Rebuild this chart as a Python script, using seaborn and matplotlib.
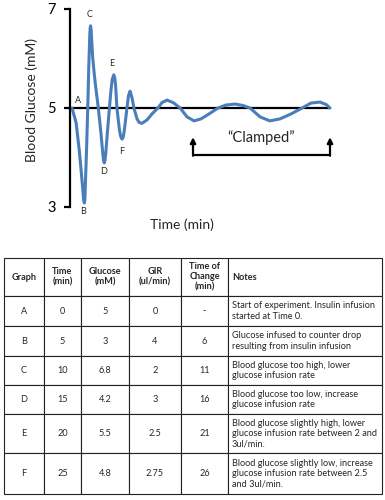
import numpy as np
import pandas as pd
import seaborn as sns
import matplotlib
matplotlib.use("Agg")
import matplotlib.pyplot as plt

# curve (time in arbitrary minutes, glucose in mM)
curve_time = [0, 1.6, 2.8, 3.6, 4.2, 4.5, 4.8, 5.0, 5.2, 5.6, 6.1, 6.5, 6.9,
              7.05, 7.2, 7.4, 7.6, 8.0, 8.5, 9.0, 9.6, 10.2, 11.2, 11.9, 12.2,
              12.5, 12.8, 13.1, 13.7, 14.5, 15.1, 15.6, 16.2, 16.6, 16.9, 17.4,
              18.4, 18.9, 19.4, 19.9, 20.4, 21.3, 21.9, 22.5, 23.2, 24.0, 25.2,
              26.0, 27.1, 29.1, 31.0, 33.3, 34.9, 36.8, 39.2, 41.9, 44.6, 47.3,
              50.0, 53.1, 56.6, 59.7, 63.2, 66.3, 69.0, 72.9, 76.7, 80.6, 84.9,
              89.2, 92.6, 96.1, 98.5, 100]
curve_glucose = [5.0, 4.70, 4.15, 3.70, 3.34, 3.14, 3.08, 3.16, 3.50, 4.10, 5.0,
                 5.83, 6.50, 6.62, 6.66, 6.58, 6.40, 6.03, 5.75, 5.50, 5.25, 5.0,
                 4.50, 4.10, 3.95, 3.89, 3.95, 4.10, 4.50, 5.0, 5.36, 5.58, 5.67,
                 5.60, 5.45, 5.0, 4.55, 4.42, 4.37, 4.42, 4.60, 5.0, 5.25, 5.34,
                 5.22, 5.0, 4.78, 4.71, 4.69, 4.76, 4.88, 5.0, 5.11, 5.16, 5.11,
                 5.0, 4.82, 4.74, 4.78, 4.88, 5.0, 5.06, 5.08, 5.05, 5.0, 4.82,
                 4.74, 4.78, 4.88, 5.0, 5.10, 5.12, 5.07, 5.0]

point_labels = ["A", "B", "C", "D", "E", "F"]
label_t = [2.3, 4.3, 6.8, 12.4, 15.5, 19.4]
label_v = [5.16, 2.90, 6.88, 3.71, 5.89, 4.13]

clamp_start, clamp_end = 46.9, 100
clamp_low, clamp_high = 4.05, 4.41

# table
col_labels = ["Graph", "Time\n(min)", "Glucose\n(mM)", "GIR\n(ul/min)", "Time of\nChange\n(min)", "Notes"]
graph = ["A", "B", "C", "D", "E", "F"]
times = ["0", "5", "10", "15", "20", "25"]
glucose = ["5", "3", "6.8", "4.2", "5.5", "4.8"]
gir = ["0", "4", "2", "3", "2.5", "2.75"]
change = ["-", "6", "11", "16", "21", "26"]
notes = ["Start of experiment. Insulin infusion\nstarted at Time 0.",
         "Glucose infused to counter drop\nresulting from insulin infusion",
         "Blood glucose too high, lower\nglucose infusion rate",
         "Blood glucose too low, increase\nglucose infusion rate",
         "Blood glucose slightly high, lower\nglucose infusion rate between 2 and\n3ul/min.",
         "Blood glucose slightly low, increase\nglucose infusion rate between 2.5\nand 3ul/min."]

sns.set_style("white")
plt.rcParams['font.family'] = ['Lato', 'DejaVu Sans']

fig = plt.figure(figsize=(3.85, 5), dpi=100)
W, H = 385, 500

ax = fig.add_axes([70 / W, 1 - 207 / H, 260 / W, 198 / H])
df = pd.DataFrame({"t": curve_time, "g": curve_glucose})
ax.plot([0, 100], [5, 5], color="black", lw=1.6, zorder=1, clip_on=False)
sns.lineplot(data=df, x="t", y="g", ax=ax, color="#4a7ebb", lw=2.2, zorder=2,
             sort=False, clip_on=False, solid_joinstyle="round", solid_capstyle="round")
ax.set_xlim(-0.78, 100)
ax.set_ylim(3, 7)
ax.set_yticks([3, 5, 7])
ax.set_xticks([])
for s in ["top", "right", "bottom"]:
    ax.spines[s].set_visible(False)
ax.spines["left"].set_linewidth(1.6)
ax.spines["left"].set_color("black")
ax.tick_params(axis="y", direction="out", length=4, width=1.6, pad=6,
               labelsize=10.5, left=True, colors="black")
ax.set_ylabel("Blood Glucose (mM)", fontsize=10, va="center")
ax.yaxis.set_label_coords(-0.146, 0.54)
ax.set_xlabel("Time (min)", fontsize=10, va="center")
ax.xaxis.set_label_coords(0.431, -0.091)

for lab, t, v in zip(point_labels, label_t, label_v):
    ax.text(t, v, lab, fontsize=6.5, ha="center", va="center", clip_on=False)

ax.text((clamp_start + clamp_end) / 2, clamp_high, "\u201cClamped\u201d",
        fontsize=10.5, ha="center", va="center")
ax.plot([clamp_start, clamp_end], [clamp_low, clamp_low], color="black", lw=1.6,
        solid_capstyle="butt", clip_on=False)
for xx in [clamp_start, clamp_end]:
    ax.annotate("", xy=(xx, clamp_high), xytext=(xx, clamp_low - 0.015),
                arrowprops=dict(arrowstyle="-|>", lw=1.6, color="black",
                                mutation_scale=8, shrinkA=0, shrinkB=0),
                annotation_clip=False)

# table
tax = fig.add_axes([4 / W, 1 - 494 / H, 378 / W, 236 / H])
tax.axis("off")
cells = [list(r) for r in zip(graph, times, glucose, gir, change, notes)]
col_w = [40, 37, 48, 52, 47, 154]
row_h = [38, 30, 30, 29, 29, 39, 41]
tbl = tax.table(cellText=cells, colLabels=col_labels, colWidths=[w / 378 for w in col_w],
                cellLoc="center", bbox=[0, 0, 1, 1])
tbl.auto_set_font_size(False)
for (r, c), cell in tbl.get_celld().items():
    cell.set_height(row_h[r] / 236)
    cell.set_edgecolor("#222222")
    cell.set_linewidth(0.8)
    cell.get_text().set_fontsize(6.6)
    if r == 0:
        cell.get_text().set_fontweight("bold")
    if c == 5:
        cell.get_text().set_ha("left")
        cell._loc = "left"
        cell.PAD = 0.025

fig.savefig("out.png", dpi=100)
